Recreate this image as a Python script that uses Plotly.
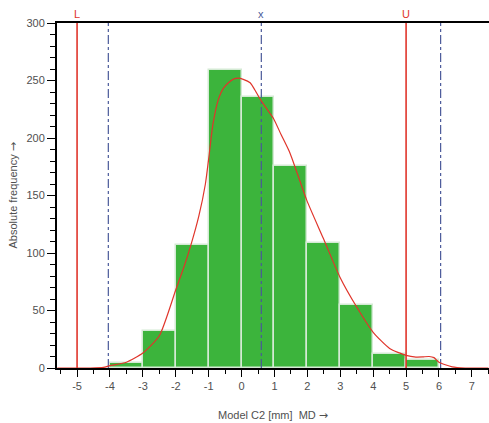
import plotly.graph_objects as go

# Histogram data (bin left edges, width 1)
bin_left = [-4, -3, -2, -1, 0, 1, 2, 3, 4, 5]
counts = [4, 32, 107, 259, 236, 176, 109, 55, 12, 7]

# Density curve points
curve_x = [-5.6, -4.6, -4.2, -4.0, -3.5, -3.0, -2.5, -2.0, -1.75, -1.55, -1.3, -1.1, -1.0, -0.87, -0.7, -0.56, -0.4, -0.26, -0.1, 0.05, 0.26, 0.4, 0.56, 0.75, 0.97, 1.2, 1.47, 1.98, 2.48, 2.99, 3.5, 4.0, 4.5, 5.0, 5.3, 5.5, 5.7, 5.85, 6.0, 6.4, 6.8, 7.5]
curve_y = [0, 0, 0.5, 2, 5, 13, 28, 68, 88, 106, 132, 160, 182, 212, 234, 243, 248, 251, 252, 251, 248, 242, 234, 226, 217, 203, 187, 146, 113, 79, 53, 31, 17, 11, 9.5, 9.6, 10, 9, 5, 1, 0, 0]

# Limit lines
spec_lines = [-5, 5]
spec_labels = ["L", "U"]
sigma_lines = [-4.05, 0.6, 6.05]
mean_value = 0.6

x_ticks = list(range(-5, 8))
y_ticks = [0, 50, 100, 150, 200, 250, 300]

FONT = "Liberation Sans"
TXT = "#505050"
ARROW = '<span style="font-family:DejaVu Sans">\u2192</span>'

fig = go.Figure()

fig.add_trace(go.Bar(
    x=[b + 0.5 for b in bin_left], y=counts, width=1,
    marker=dict(color="#3cb43c", line=dict(color="#d4ead4", width=1.5)),
    showlegend=False, hoverinfo="skip"))

for xv in spec_lines:
    fig.add_trace(go.Scatter(x=[xv, xv], y=[0, 300], mode="lines",
                             line=dict(color="#e0352b", width=1.6), showlegend=False))
for xv in sigma_lines:
    fig.add_trace(go.Scatter(x=[xv, xv], y=[0, 300], mode="lines",
                             line=dict(color="#4a5a9a", width=1.2, dash="dashdot"), showlegend=False))

fig.add_trace(go.Scatter(x=curve_x, y=curve_y, mode="lines", line_shape="spline",
                         line=dict(color="#e0352b", width=1.2, smoothing=0.6), showlegend=False))

for xv, lab in zip(spec_lines, spec_labels):
    fig.add_annotation(x=xv, y=1, yref="paper", text=lab, showarrow=False, yanchor="bottom",
                       yshift=1, font=dict(color="#e0352b", size=11, family=FONT))
fig.add_annotation(x=mean_value, y=1, yref="paper", text="x", showarrow=False, yanchor="bottom",
                   yshift=1, font=dict(color="#4a5a9a", size=11, family=FONT))

# axis titles
fig.add_annotation(x=0.5, xref="paper", y=0, yref="paper", yanchor="middle", yshift=-47,
                   text="Model C2 [mm]  MD " + ARROW, showarrow=False,
                   font=dict(color=TXT, size=11, family=FONT))
fig.add_annotation(x=0, xref="paper", xanchor="center", xshift=-44, y=0.5, yref="paper",
                   text="Absolute frequency " + ARROW, textangle=-90, showarrow=False,
                   font=dict(color=TXT, size=11, family=FONT))

fig.update_layout(
    width=489, height=423,
    margin=dict(l=57, r=0, t=23, b=55),
    paper_bgcolor="white", plot_bgcolor="white",
    bargap=0,
    font=dict(family=FONT, size=11, color=TXT),
    xaxis=dict(range=[-5.61, 7.52], tickvals=x_ticks, ticktext=[str(v) for v in x_ticks],
               showgrid=False, zeroline=False, showline=True, linecolor="black", linewidth=2,
               mirror=True, ticks="outside", ticklen=7, tickwidth=1.2, tickcolor="black",
               minor=dict(dtick=0.5, tick0=0, ticks="outside", ticklen=4, tickcolor="black", showgrid=False),
               tickfont=dict(size=11, color=TXT), automargin=False, fixedrange=True),
    yaxis=dict(range=[0, 300], tickvals=y_ticks, showgrid=False, zeroline=False,
               showline=True, linecolor="black", linewidth=2,
               ticks="outside", ticklen=8, tickwidth=1.2, tickcolor="black",
               minor=dict(dtick=10, tick0=0, ticks="outside", ticklen=5, tickcolor="black", showgrid=False),
               tickfont=dict(size=11, color=TXT), automargin=False, fixedrange=True),
)

fig.write_html("out.html", config={"displayModeBar": False},
               post_script="document.body.style.margin='0';document.body.style.overflow='hidden';")
